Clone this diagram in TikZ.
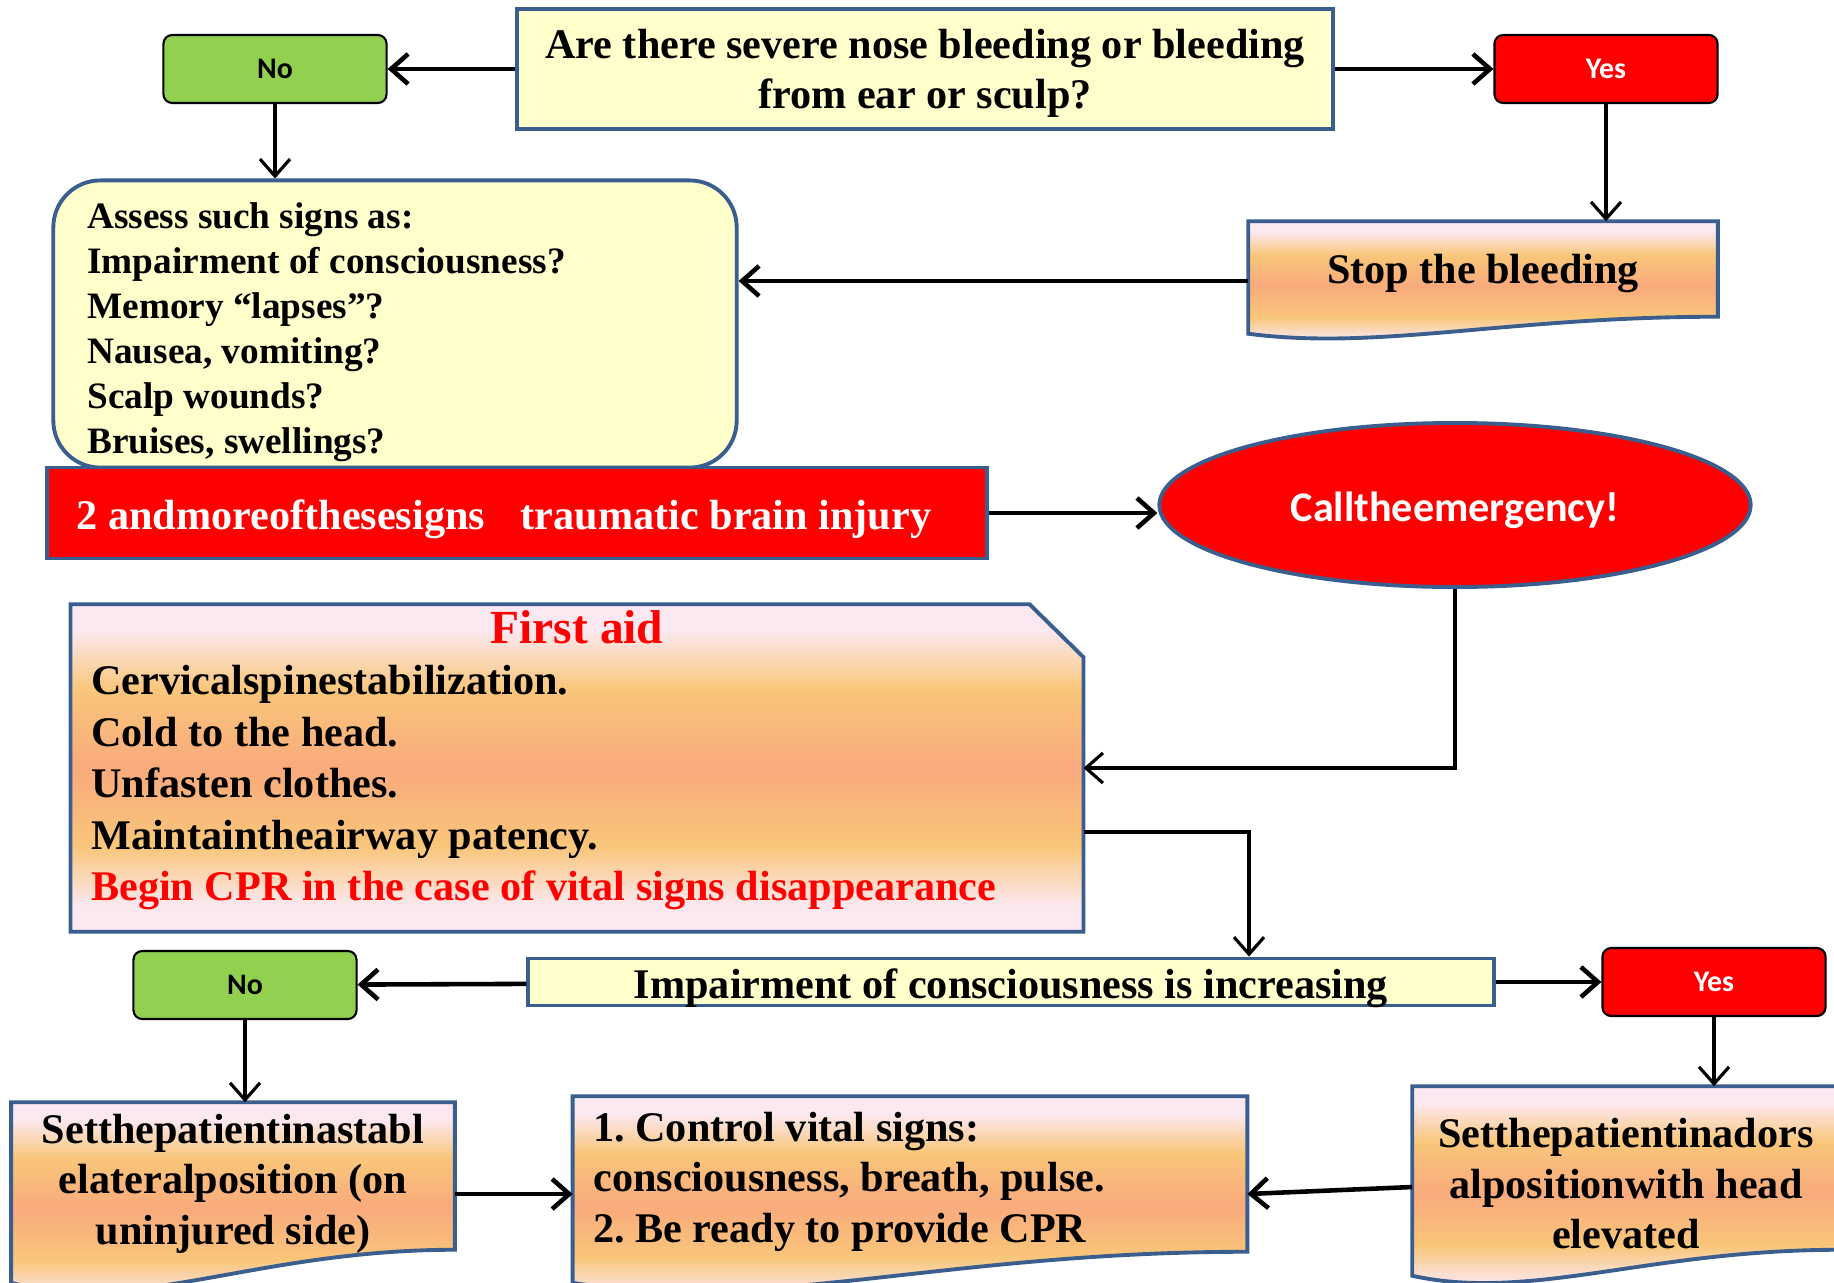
\documentclass[tikz,border=0pt]{standalone}
\usepackage{fontspec}
\setmainfont{Liberation Serif}
\newfontfamily\calibri{Carlito}
\usepackage{tikz}
\usetikzlibrary{arrows.meta,shapes.geometric,calc,backgrounds}
\frenchspacing

\definecolor{boxblue}{RGB}{58,95,142}
\definecolor{paleyellow}{RGB}{255,255,204}
\definecolor{leafgreen}{RGB}{146,208,80}
\definecolor{peachpink}{RGB}{252,232,240}
\definecolor{peachorange}{RGB}{249,198,122}
\definecolor{peachsalmon}{RGB}{249,170,124}
\pgfdeclareverticalshading{peach}{100bp}{color(0bp)=(peachpink); color(29bp)=(peachpink); color(38bp)=(peachorange); color(50bp)=(peachsalmon); color(62bp)=(peachorange); color(71bp)=(peachpink); color(100bp)=(peachpink)}

\tikzset{
  yellowbox/.style={rectangle, draw=boxblue, line width=1.1pt, fill=paleyellow, inner sep=0pt, align=center, font=\bfseries\fontsize{12}{14.2}\selectfont},
  answerbox/.style={rectangle, rounded corners=2.5pt, draw=black, line width=0.6pt, minimum width=2.23cm, minimum height=0.68cm, inner sep=0pt, font=\calibri\bfseries\fontsize{8.5}{9}\selectfont},
  nobox/.style={answerbox, fill=leafgreen},
  yesbox/.style={answerbox, fill=red, text=white},
  doctext/.style={rectangle, inner sep=0pt, align=center, font=\bfseries\fontsize{12}{14.4}\selectfont},
  docbox/.style={draw=boxblue, line width=1.1pt, shade, shading=peach},
  flow/.style={-{Straight Barb[length=1.7mm,width=3mm]}, line width=1.3pt},
  thinflow/.style={-{Straight Barb[length=1.7mm,width=3mm]}, line width=0.9pt}
}

% wavy bottom of a "document" box: node name, wave depth
\newcommand\docoutline[2]{%
  \path[docbox] let \p1=(#1.south west), \p2=(#1.north east), \n1={\x2-\x1}, \n2={#2*0.2845} in
    (\x1,\y2) -- (\x2,\y2) -- (\x2,\y1)
    .. controls (\x1+0.55*\n1,\y1) and (\x1+0.28*\n1,\y1-2*\n2) .. (\x1,\y1-\n2) -- cycle;}

\begin{document}
\begin{tikzpicture}[x=0.01cm, y=-0.01cm]
		\useasboundingbox (0,0) rectangle (1834,1282);

		\node (question) [yellowbox, minimum width=8.16cm, minimum height=1.2cm, text height=25pt] at (925,69) {Are there severe nose bleeding or bleeding\\from ear or sculp?};
		\node (noA) [nobox] at (275,69) {No};
		\node (yesA) [yesbox] at (1606,69) {Yes};

		\node (assess) [rectangle, rounded corners=0.47cm, draw=boxblue, line width=1.1pt, fill=paleyellow, inner xsep=0.34cm, inner ysep=0pt, minimum height=2.87cm, text width=6.15cm, align=flush left, text height=12pt, font=\bfseries\fontsize{10.6}{12.75}\selectfont] at (395,324) {Assess such signs as:\\Impairment of consciousness?\\Memory ``lapses''?\\Nausea, vomiting?\\Scalp wounds?\\Bruises, swellings?};

		\node (stop) [doctext, minimum width=4.68cm, minimum height=0.94cm, text height=11pt, text depth=2.7pt] at (1483,269) {Stop the bleeding};

		\node (bar) [rectangle, draw=boxblue, line width=1.1pt, fill=red, text=white, inner xsep=0.3cm, minimum height=0.91cm, text width=8.8cm, align=flush left, text height=12pt, font=\bfseries\fontsize{12}{14}\selectfont] at (517,513) {2 andmoreofthesesigns\hspace{0.85em}traumatic brain injury};

		\node (call) [ellipse, draw=boxblue, line width=1.1pt, fill=red, text=white, inner sep=0pt, minimum width=5.91cm, minimum height=1.64cm, text height=11.5pt, font=\calibri\bfseries\fontsize{12}{14}\selectfont] at (1455,505) {Calltheemergency!};

		\node (firstaid) [rectangle, inner xsep=0.2cm, inner ysep=0pt, minimum height=3.26cm, text width=9.71cm, align=flush left, text height=5pt, font=\bfseries\fontsize{12}{14.65}\selectfont] at (577,768) {\makebox[9.71cm][c]{\textcolor{red}{\fontsize{13.5}{15}\selectfont First aid}}\\Cervicalspinestabilization.\\Cold to the head.\\Unfasten clothes.\\Maintaintheairway patency.\\\textcolor{red}{Begin CPR in the case of vital signs disappearance}};

		\node (impair) [yellowbox, minimum width=9.65cm, minimum height=0.47cm, text height=11.2pt, text depth=2.1pt] at (1011,982) {Impairment of consciousness is increasing};
		\node (noB) [nobox] at (245,985) {No};
		\node (yesB) [yesbox] at (1714,982) {Yes};

		\node (stable) [doctext, minimum width=4.42cm, minimum height=1.46cm, text height=39pt, text depth=0pt] at (233,1176) {Setthepatientinastabl\\elateralposition (on\\uninjured side)};
		\node (control) [doctext, inner xsep=0.2cm, minimum height=1.54cm, text width=6.33cm, align=flush left, text height=12.5pt, text depth=31.2pt] at (910,1174) {1. Control vital signs:\\consciousness, breath, pulse.\\2. Be ready to provide CPR};
		\node (dorsal) [doctext, minimum width=4.26cm, minimum height=1.62cm, text height=46pt, text depth=0pt] at (1626,1168) {Setthepatientinadors\\alpositionwith head\\elevated};

		\begin{scope}[on background layer]
		\docoutline{stop}{17}
		\docoutline{stable}{33}
		\docoutline{control}{31}
		\docoutline{dorsal}{26}
		\path[docbox] (firstaid.north west) -- ([xshift=-0.54cm]firstaid.north east) -- ([yshift=-0.53cm]firstaid.north east) -- (firstaid.south east) -- (firstaid.south west) -- cycle;
		\end{scope}

		\coordinate (bend) at (1249,832);
		\coordinate (stopout) at ($(stop.west)+(0,12)$);
		\coordinate (stableout) at ($(stable.east)+(0,18)$);
		\coordinate (dorsalout) at ($(dorsal.west)+(0,19)$);
		\coordinate (controlin) at ($(control.east)+(0,20)$);

		\draw [flow] (question) -- (noA);
		\draw [flow] (question) -- (yesA);
		\draw [thinflow] (noA) -- (noA |- assess.north);
		\draw [thinflow] (yesA) -- (yesA |- stop.north);
		\draw [flow] (stopout) -- (stopout -| assess.east);
		\draw [flow] (bar.east) -- (bar.east -| call.west);
		\draw [thinflow] (call.south) |- (firstaid.east);
		\draw [thinflow] (firstaid.east |- bend) -- (bend) -- (bend |- impair.north);
		\draw [flow] (impair) -- (noB);
		\draw [flow] (impair) -- (yesB);
		\draw [thinflow] (noB) -- (noB |- stable.north);
		\draw [thinflow] (yesB) -- (yesB |- dorsal.north);
		\draw [flow] (stableout) -- (stableout -| control.west);
		\draw [flow] (dorsalout) -- (controlin);

\end{tikzpicture}
\end{document}
